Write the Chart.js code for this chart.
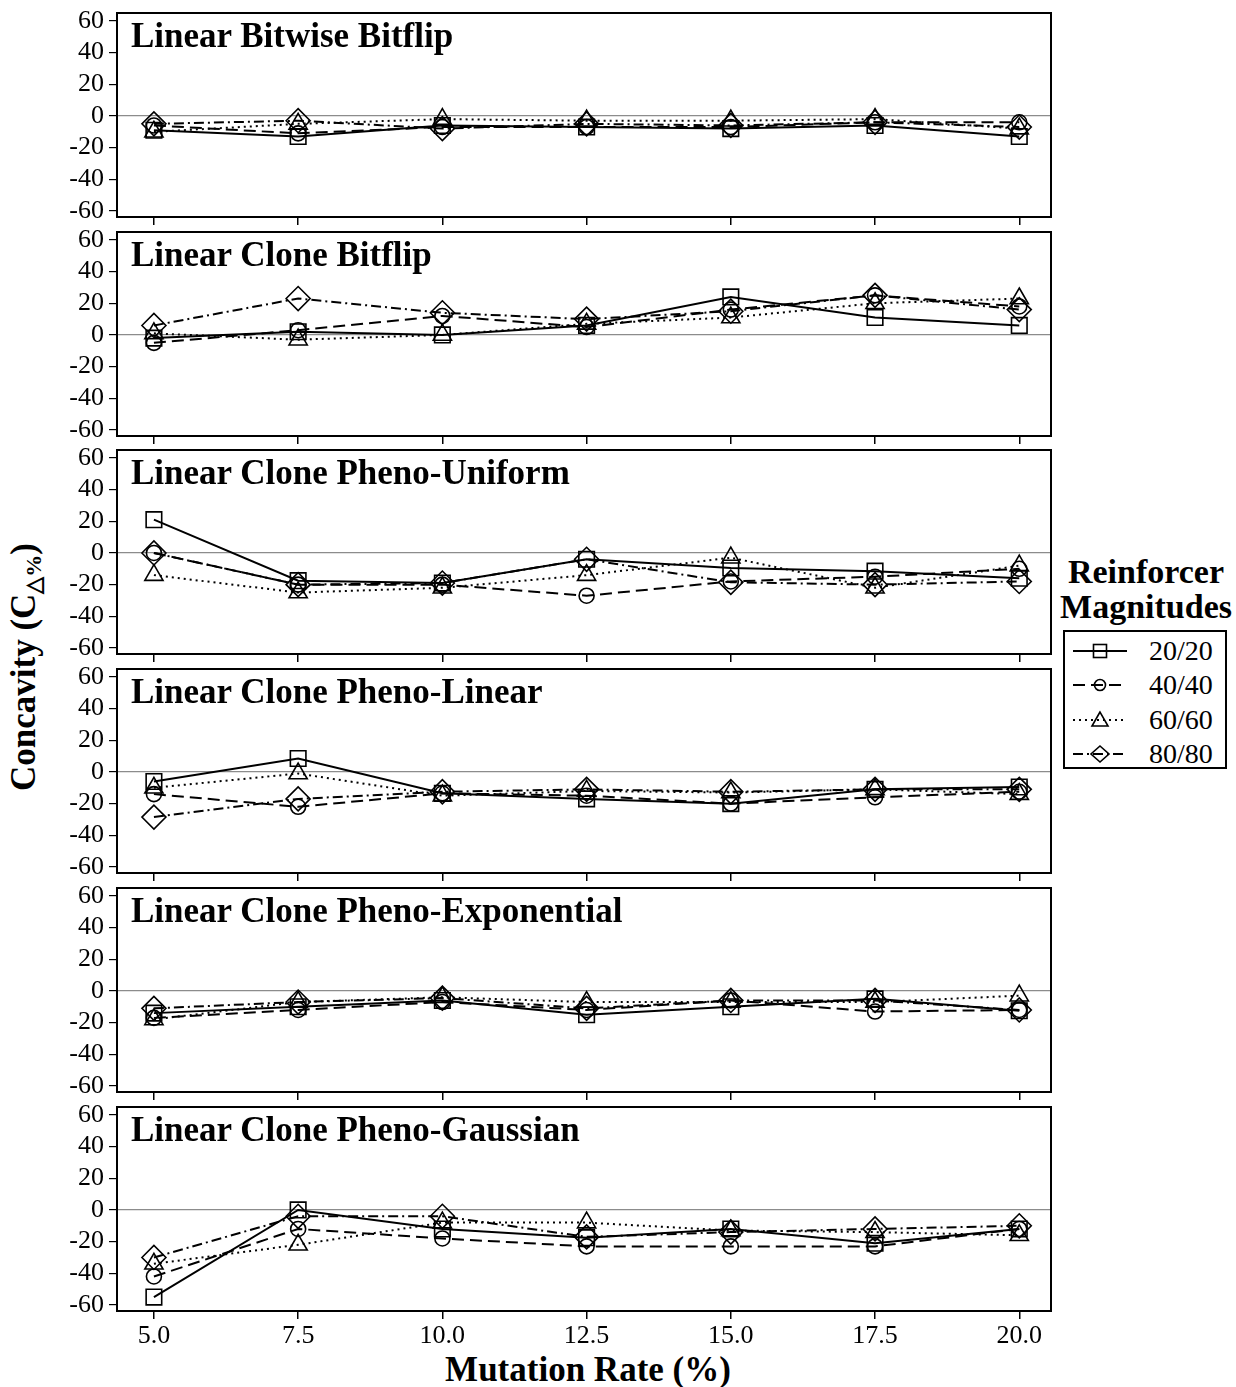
<!DOCTYPE html>
<html>
<head>
<meta charset="utf-8">
<title>Concavity vs Mutation Rate</title>
<script src="https://cdn.jsdelivr.net/npm/chart.js@4.4.1/dist/chart.umd.min.js"></script>
<style>
  html, body { margin: 0; padding: 0; background: #fff; }
  #page { position: relative; width: 1236px; height: 1387px; background: #fff; overflow: hidden;
          font-family: 'Liberation Serif', 'Times New Roman', serif; color: #000; }
  canvas.panel { position: absolute; left: 0; }
  .ptitle { position: absolute; left: 131px; font-weight: bold; font-size: 35px; line-height: 35px; white-space: nowrap; }
  #ytitle { position: absolute; left: 28px; top: 667px; font-weight: bold; font-size: 35px; line-height: 35px;
            white-space: nowrap; transform: translate(-50%, -50%) rotate(-90deg); }
  #ytitle sub { font-size: 22px; vertical-align: -6px; }
  #xtitle { position: absolute; left: 588px; top: 1352px; transform: translateX(-50%); font-weight: bold;
            font-size: 35px; line-height: 35px; white-space: nowrap; }
  .lhead { position: absolute; left: 1146px; transform: translateX(-50%); font-weight: bold; font-size: 34px;
           line-height: 34px; white-space: nowrap; }
  #legend { position: absolute; left: 1063px; top: 630px; width: 160px; height: 135px; border: 2px solid #000; }
  .lrow { position: absolute; left: 0; height: 30px; width: 160px; }
  .lrow svg { position: absolute; left: 6px; top: 0; }
  .lrow span { position: absolute; left: 84px; top: 0; font-size: 28px; line-height: 30px; }
</style>
</head>
<body>
<div id="page">
  <div id="ytitle">Concavity (C<sub>△%</sub>)</div>
  <div id="xtitle">Mutation Rate (%)</div>
  <div class="lhead" style="top:555px">Reinforcer</div>
  <div class="lhead" style="top:590px">Magnitudes</div>
  <div id="legend"></div>
</div>
<script>
// Mutation rates on the x axis and the fixed y tick values
const MUTATION_RATES = [5.0, 7.5, 10.0, 12.5, 15.0, 17.5, 20.0];
const Y_TICKS = [-60, -40, -20, 0, 20, 40, 60];
const MAGNITUDES = ['20/20', '40/40', '60/60', '80/80'];
const PANEL_TITLES = [
  'Linear Bitwise Bitflip',
  'Linear Clone Bitflip',
  'Linear Clone Pheno-Uniform',
  'Linear Clone Pheno-Linear',
  'Linear Clone Pheno-Exponential',
  'Linear Clone Pheno-Gaussian'
];

// Concavity (C△%) per panel; rows follow MAGNITUDES, columns follow MUTATION_RATES
const bitwiseBitflip = [
  [-9, -13, -6, -7, -8, -6, -13],
  [-6, -11, -7, -7, -7, -4, -4],
  [-10, -5, -2, -3, -3, -2, -8],
  [-5, -3, -8, -5, -6, -4, -7]
];
const cloneBitflip = [
  [-2, 2, 0, 6, 24, 11, 6],
  [-5, 3, 12, 5, 16, 25, 18],
  [1, -3, 0, 7, 11, 20, 23],
  [6, 23, 14, 10, 15, 25, 16]
];
const phenoUniform = [
  [21, -17.5, -19, -4, -9.5, -11.5, -16],
  [0, -20, -20, -27, -18, -15, -10],
  [-14, -25, -22, -14, -3, -22, -8],
  [0, -20, -19, -4, -18.5, -20, -18]
];
const phenoLinear = [
  [-6, 8.5, -13.5, -17, -20, -11, -9.5],
  [-14, -22, -13.5, -15, -20, -16, -12.5],
  [-10, -1, -15, -12, -13, -11, -14],
  [-28.5, -17, -12.5, -11, -12.5, -11, -11]
];
const phenoExponential = [
  [-14, -10, -6, -15, -10, -5, -12.5],
  [-17, -12, -7, -12, -6, -13, -12],
  [-18, -7, -4, -7, -7, -7, -3],
  [-11, -7, -4.5, -11, -6, -6, -12]
];
const phenoGaussian = [
  [-55, 0, -12, -17.5, -12, -21, -12],
  [-42, -12, -18, -23, -23, -23, -12],
  [-34, -22, -8, -8, -13, -14, -16],
  [-30, -4, -4, -17, -14, -12, -10]
];
const PANEL_DATA = [bitwiseBitflip, cloneBitflip, phenoUniform, phenoLinear, phenoExponential, phenoGaussian];

// Line and marker style for each magnitude
const SERIES_STYLE = [
  { pointStyle: 'rect',     radius: 11,  dash: [] },
  { pointStyle: 'circle',   radius: 7.5, dash: [12, 6] },
  { pointStyle: 'triangle', radius: 10.5, dash: [2, 4] },
  { pointStyle: 'rectRot',  radius: 12,  dash: [10, 4, 2, 4] }
];

// Layout
const X_MIN = 4.36, X_MAX = 20.55, Y_MIN = -63.8, Y_MAX = 65;
const PANEL_TOPS = [13, 232, 450, 669, 888, 1107];
const BOX_H = 204, CANVAS_W = 1060, AXIS_W = 117, PAD_TOP = 10, PAD_RIGHT = 9;
const FONT = "'Liberation Serif', 'Times New Roman', serif";

// Draws the black box around each plot area
const framePlugin = {
  id: 'frame',
  beforeDatasetsDraw(chart) {
    const { ctx, chartArea: a } = chart;
    ctx.save();
    ctx.strokeStyle = '#000';
    ctx.lineWidth = 2;
    ctx.strokeRect(a.left, a.top, a.right - a.left, a.bottom - a.top);
    ctx.restore();
  }
};

const page = document.getElementById('page');

function makePanel(i) {
  const isLast = i === PANEL_DATA.length - 1;
  const axisH = isLast ? 44 : 12;
  const h = PAD_TOP + BOX_H + axisH;
  const canvas = document.createElement('canvas');
  canvas.className = 'panel';
  canvas.width = CANVAS_W;
  canvas.height = h;
  canvas.style.width = CANVAS_W + 'px';
  canvas.style.height = h + 'px';
  canvas.style.top = (PANEL_TOPS[i] - PAD_TOP) + 'px';
  page.appendChild(canvas);

  const title = document.createElement('div');
  title.className = 'ptitle';
  title.textContent = PANEL_TITLES[i];
  title.style.top = (PANEL_TOPS[i] + 5) + 'px';
  page.appendChild(title);

  new Chart(canvas, {
    type: 'line',
    data: {
      datasets: MAGNITUDES.map((name, s) => ({
        label: name,
        data: MUTATION_RATES.map((x, k) => ({ x: x, y: PANEL_DATA[i][s][k] })),
        borderColor: '#000',
        borderWidth: 2,
        borderDash: SERIES_STYLE[s].dash,
        pointStyle: SERIES_STYLE[s].pointStyle,
        pointRadius: SERIES_STYLE[s].radius,
        pointBorderColor: '#000',
        pointBackgroundColor: 'rgba(0,0,0,0)',
        pointBorderWidth: 1.6,
        tension: 0,
        fill: false
      }))
    },
    options: {
      responsive: false,
      animation: false,
      devicePixelRatio: 1,
      events: [],
      layout: { autoPadding: false, padding: { top: PAD_TOP, right: PAD_RIGHT, left: 0, bottom: 0 } },
      plugins: { legend: { display: false }, tooltip: { enabled: false } },
      scales: {
        x: {
          type: 'linear',
          min: X_MIN,
          max: X_MAX,
          afterBuildTicks: sc => { sc.ticks = MUTATION_RATES.map(v => ({ value: v })); },
          afterFit: sc => { sc.height = axisH; sc.paddingLeft = 0; sc.paddingRight = 0; },
          grid: { drawOnChartArea: false, color: '#000', tickColor: '#000', tickLength: 8, lineWidth: 1.5 },
          border: { display: false },
          ticks: {
            display: isLast, autoSkip: false, maxRotation: 0, padding: 2, color: '#000',
            font: { family: FONT, size: 26 },
            callback: v => Number(v).toFixed(1)
          }
        },
        y: {
          min: Y_MIN,
          max: Y_MAX,
          afterBuildTicks: sc => { sc.ticks = Y_TICKS.map(v => ({ value: v })); },
          afterFit: sc => { sc.width = AXIS_W; sc.paddingTop = 0; sc.paddingBottom = 0; },
          grid: {
            color: c => (c.tick && c.tick.value === 0) ? '#8c8c8c' : 'rgba(0,0,0,0)',
            lineWidth: 1.2,
            tickColor: '#000',
            tickLength: 8
          },
          border: { display: false },
          ticks: { autoSkip: false, padding: 5, color: '#000', font: { family: FONT, size: 26 } }
        }
      }
    },
    plugins: [framePlugin]
  });
}

PANEL_DATA.forEach((_, i) => makePanel(i));

// Legend built from the same series styles
const legend = document.getElementById('legend');
const NS = 'http://www.w3.org/2000/svg';
MAGNITUDES.forEach((name, s) => {
  const row = document.createElement('div');
  row.className = 'lrow';
  row.style.top = (4 + s * 34.3) + 'px';
  const svg = document.createElementNS(NS, 'svg');
  svg.setAttribute('width', '58');
  svg.setAttribute('height', '30');
  const cx = 29, cy = 15;
  const line = document.createElementNS(NS, 'line');
  line.setAttribute('x1', '2'); line.setAttribute('x2', '56');
  line.setAttribute('y1', cy); line.setAttribute('y2', cy);
  line.setAttribute('stroke', '#000'); line.setAttribute('stroke-width', '2');
  if (SERIES_STYLE[s].dash.length) line.setAttribute('stroke-dasharray', SERIES_STYLE[s].dash.join(' '));
  svg.appendChild(line);
  let mk;
  const st = SERIES_STYLE[s].pointStyle;
  if (st === 'rect') {
    mk = document.createElementNS(NS, 'rect');
    mk.setAttribute('x', cx - 6.5); mk.setAttribute('y', cy - 6.5);
    mk.setAttribute('width', 13); mk.setAttribute('height', 13);
  } else if (st === 'circle') {
    mk = document.createElementNS(NS, 'circle');
    mk.setAttribute('cx', cx); mk.setAttribute('cy', cy); mk.setAttribute('r', 5.5);
  } else if (st === 'triangle') {
    mk = document.createElementNS(NS, 'polygon');
    mk.setAttribute('points', `${cx},${cy - 8} ${cx - 8},${cy + 6} ${cx + 8},${cy + 6}`);
  } else {
    mk = document.createElementNS(NS, 'polygon');
    mk.setAttribute('points', `${cx},${cy - 8} ${cx + 9},${cy} ${cx},${cy + 8} ${cx - 9},${cy}`);
  }
  mk.setAttribute('fill', 'none'); mk.setAttribute('stroke', '#000'); mk.setAttribute('stroke-width', '1.6');
  svg.appendChild(mk);
  row.appendChild(svg);
  const label = document.createElement('span');
  label.textContent = name;
  row.appendChild(label);
  legend.appendChild(row);
});
</script>
</body>
</html>
